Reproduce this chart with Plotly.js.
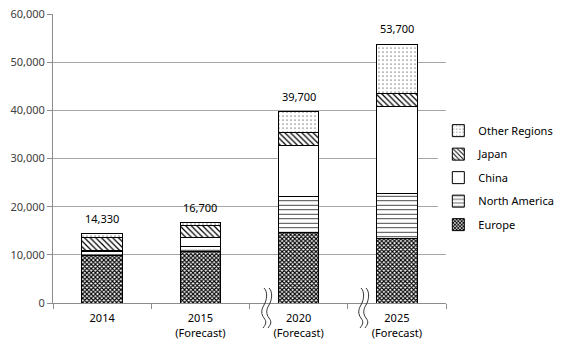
<!DOCTYPE html>
<html><head><meta charset="utf-8">
<script src="https://cdn.plot.ly/plotly-3.0.1.min.js"></script>
<style>html,body{margin:0;padding:0;background:#fff}#c{width:570px;height:353px}</style>
</head><body><div id="c"></div>
<script>
const categories = ["2014", "2015<br>(Forecast)", "2020<br>(Forecast)", "2025<br>(Forecast)"];
const europe = [9800, 10700, 14700, 13300];
const northAmerica = [900, 1050, 7500, 9400];
const china = [300, 1800, 10600, 18100];
const japan = [2600, 2600, 2700, 2600];
const otherRegions = [730, 550, 4200, 10300];
const totals = [14330, 16700, 39700, 53700];
const totalLabels = ["14,330", "16,700", "39,700", "53,700"];

const FONT = "Noto Sans, DejaVu Sans, sans-serif";
function bar(name, y, pattern, rank) {
  return {
    type: "bar", name: name, x: categories, y: y,
    marker: { color: "#fff", line: { color: "#000", width: 1 }, pattern: pattern },
    width: 0.41, hoverinfo: "skip", legendgroup: name, legendrank: rank
  };
}
const traces = [
  bar("Europe", europe, { shape: "x", size: 3, solidity: 0.6, fgcolor: "#000", bgcolor: "#fff" }, 5),
  bar("North America", northAmerica, { shape: "-", size: 4.5, solidity: 0.2, fgcolor: "#333", bgcolor: "#fff" }, 4),
  bar("China", china, { shape: "", fgcolor: "#000", bgcolor: "#fff" }, 3),
  bar("Japan", japan, { shape: "\\", size: 4, solidity: 0.3, fgcolor: "#000", bgcolor: "#fff" }, 2),
  bar("Other Regions", otherRegions, { shape: ".", size: 4, solidity: 0.06, fgcolor: "#000", bgcolor: "#fff" }, 1)
];

const annotations = categories.map(function (c, i) {
  return { xref: "x", yref: "y", x: i, y: totals[i], text: totalLabels[i], showarrow: false,
    yanchor: "bottom", yshift: 6, font: { size: 11, color: "#000", family: FONT } };
});

// plot area in pixels: x 53..446, y 14..303
const L = 53, R = 446, T = 14, B = 303;
function px(x) { return ((x - L) / (R - L)).toFixed(4); }
function py(y) { return ((B - y) / (B - T)).toFixed(4); }
function wave(x0) {
  let d = "M" + px(x0) + "," + py(288);
  d += " C" + px(x0 + 4) + "," + py(292) + " " + px(x0 + 3) + "," + py(300) + " " + px(x0) + "," + py(305);
  d += " S" + px(x0 - 3) + "," + py(314) + " " + px(x0) + "," + py(318);
  d += " S" + px(x0 + 2) + "," + py(324) + " " + px(x0 - 1) + "," + py(328);
  return d;
}
const shapes = [];
[264, 361].forEach(function (x0) {
  [0, 5].forEach(function (dx) {
    shapes.push({ type: "path", xref: "paper", yref: "paper", path: wave(x0 + dx),
      line: { color: "#333", width: 1 } });
  });
});

const layout = {
  width: 570, height: 353,
  margin: { l: L, r: 570 - R, t: T, b: 353 - B, pad: 0, autoexpand: false },
  paper_bgcolor: "#fff", plot_bgcolor: "#fff",
  barmode: "stack",
  font: { family: FONT, size: 11, color: "#000" },
  showlegend: true,
  legend: { xref: "container", yref: "container", x: 0.769, xanchor: "left", y: 0.671, yanchor: "top",
    traceorder: "grouped", tracegroupgap: 4.5, font: { size: 11, color: "#000", family: FONT }, itemwidth: 30 },
  xaxis: { type: "category", range: [-0.5, 3.5], showgrid: false, showline: true, linecolor: "#8c8c8c", linewidth: 1,
    ticks: "outside", tickson: "boundaries", ticklen: 5, tickcolor: "#8c8c8c", ticklabelstandoff: 5,
    tickfont: { size: 11, color: "#000", family: FONT }, fixedrange: true, automargin: false },
  yaxis: { range: [0, 60000], dtick: 10000, tickformat: ",d", showgrid: true, gridcolor: "#a6a6a6",
    showline: true, linecolor: "#8c8c8c", ticks: "outside", ticklen: 5, tickcolor: "#8c8c8c",
    tickfont: { size: 11, color: "#404040", family: FONT }, zeroline: false, fixedrange: true, automargin: false },
  annotations: annotations,
  shapes: shapes
};
Plotly.newPlot("c", traces, layout, { displayModeBar: false, staticPlot: true });
</script></body></html>
